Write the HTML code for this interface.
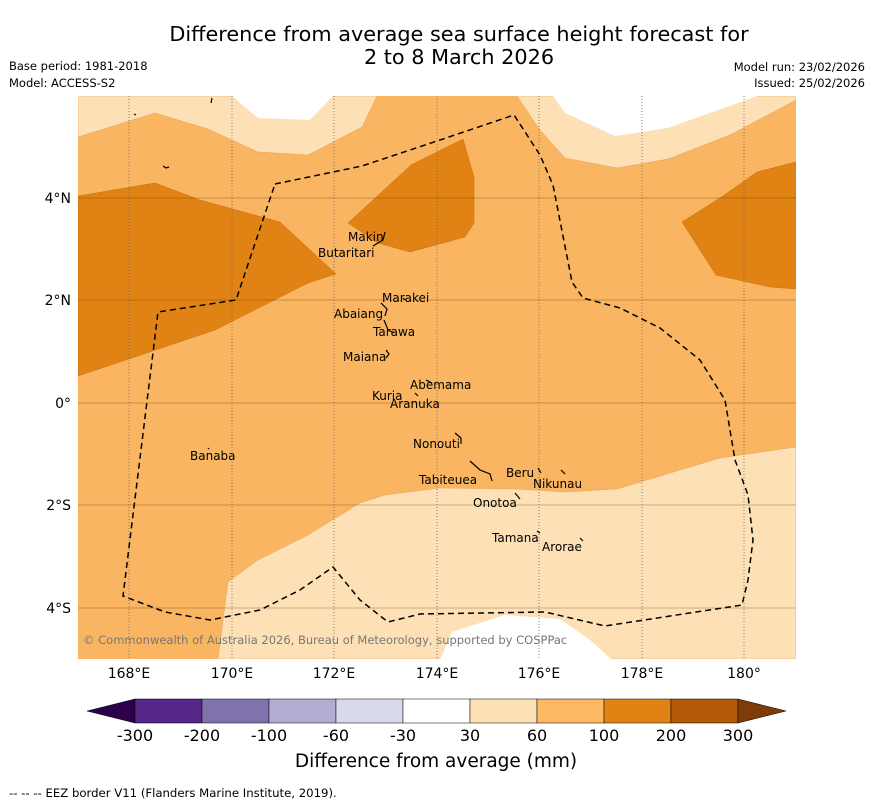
<!DOCTYPE html>
<html><head><meta charset="utf-8"><style>
body{margin:0;background:#fff;font-family:"Liberation Sans","DejaVu Sans",sans-serif}
svg{display:block}
text{font-family:"DejaVu Sans","Liberation Sans",sans-serif}
</style></head><body>
<svg width="873" height="804" viewBox="0 0 873 804">
<g font-size="20.8" text-anchor="middle" fill="#000">
<text x="459" y="41">Difference from average sea surface height forecast for</text>
<text x="459" y="64">2 to 8 March 2026</text></g>
<g font-size="11.5" fill="#000">
<text x="9" y="70">Base period: 1981-2018</text><text x="9" y="87">Model: ACCESS-S2</text>
<text x="865" y="71" text-anchor="end">Model run: 23/02/2026</text><text x="865" y="87" text-anchor="end">Issued: 25/02/2026</text></g>
<clipPath id="mc"><rect x="78" y="96" width="718" height="563"/></clipPath>
<g clip-path="url(#mc)">
<rect x="78" y="96" width="718" height="563" fill="#f9b561"/>
<polygon fill="#fde0b6" stroke="#e9a45a" stroke-width="0.5" points="78,96 377,96 362,127 308,155 258,152 208,129 155,113 78,137"/>
<polygon fill="#fff" points="232,96 258,118 310,120 333,96"/>
<polygon fill="#fde0b6" stroke="#e9a45a" stroke-width="0.5" points="517,96 796,96 796,100 730,135 668,159 617,168 565,158 540,130"/>
<polygon fill="#fff" points="553,96 565,113 615,136 668,128 757,96"/>
<polygon fill="#fde0b6" stroke="#e9a45a" stroke-width="0.5" points="796,447 720,458 617,489 565,492 517,489 440,488 385,495 360,503 308,535 258,560 228,582 218,659 796,659"/>
<polygon fill="#fff" points="440,660 452,632 505,615 560,619 590,640 612,660"/>
<polygon fill="#e08214" stroke="#c87010" stroke-width="0.5" points="78,196 155,183 200,200 280,222 336,274 308,283 215,330 105,367 78,376"/>
<polygon fill="#e08214" stroke="#c87010" stroke-width="0.5" points="348,223 411,165 463,139 474,177 474,223 465,237 410,252 378,243"/>
<polygon fill="#e08214" stroke="#c87010" stroke-width="0.5" points="682,222 720,198 757,172 796,162 796,289 770,287 716,275"/>
<g stroke="rgba(90,50,0,0.3)" stroke-width="1">
<line x1="78" x2="796" y1="198" y2="198"/><line x1="78" x2="796" y1="300" y2="300"/><line x1="78" x2="796" y1="403" y2="403"/><line x1="78" x2="796" y1="505" y2="505"/><line x1="78" x2="796" y1="608" y2="608"/></g>
<g stroke="#666" stroke-width="0.8" stroke-dasharray="1,2">
<line x1="129" x2="129" y1="96" y2="659"/><line x1="232" x2="232" y1="96" y2="659"/><line x1="334" x2="334" y1="96" y2="659"/><line x1="437" x2="437" y1="96" y2="659"/><line x1="539" x2="539" y1="96" y2="659"/><line x1="642" x2="642" y1="96" y2="659"/><line x1="744" x2="744" y1="96" y2="659"/></g>
<polygon fill="none" stroke="#000" stroke-width="1.5" stroke-dasharray="6,4" points="275,184 362,166 440,140 514,115 540,155 553,185 572,282 583,298 620,308 660,328 700,360 725,400 735,460 748,495 753,540 748,580 742,605 605,626 545,612 420,614 388,622 360,600 333,567 300,590 260,610 210,620 165,612 123,596 158,312 236,300"/>
<g fill="none" stroke="#000" stroke-width="1.2">
<path d="M373,246 L383,240 L385,232"/><path d="M381,303 L387,309 L385,316"/><path d="M384,320 L388,330 L394,333"/><path d="M386,350 L389,354 L386,358"/><path d="M426,380 L432,383"/><path d="M415,393 L418,396"/><path d="M455,433 L461,438 L461,444"/><path d="M470,461 L480,470 L490,474 L492,481"/><path d="M538,468 L541,473"/><path d="M561,470 L565,474"/><path d="M515,493 L520,499"/><path d="M537,531 L540,533"/><path d="M580,538 L583,541"/><path d="M134,114 l2,1"/><path d="M163,166 l3,2 l3,-1"/><path d="M212,98 l-1,5"/><path d="M403,298 l2,2"/><path d="M208,448 l1,1"/></g>
<g font-size="12" fill="#000">
<text x="348" y="241">Makin</text><text x="318" y="257">Butaritari</text><text x="382" y="302">Marakei</text><text x="334" y="318">Abaiang</text><text x="373" y="336">Tarawa</text><text x="343" y="361">Maiana</text><text x="410" y="389">Abemama</text><text x="372" y="400">Kuria</text><text x="390" y="408">Aranuka</text><text x="413" y="448">Nonouti</text><text x="190" y="460">Banaba</text><text x="506" y="477">Beru</text><text x="533" y="488">Nikunau</text><text x="419" y="484">Tabiteuea</text><text x="473" y="507">Onotoa</text><text x="492" y="542">Tamana</text><text x="542" y="551">Arorae</text></g>
<text x="83" y="644" font-size="11.5" fill="#777">© Commonwealth of Australia 2026, Bureau of Meteorology, supported by COSPPac</text>
</g>
<g font-size="14" fill="#000" text-anchor="end">
<text x="71" y="203">4°N</text><text x="71" y="305">2°N</text><text x="71" y="408">0°</text><text x="71" y="510">2°S</text><text x="71" y="613">4°S</text></g>
<g font-size="14" fill="#000" text-anchor="middle">
<text x="129" y="678">168°E</text><text x="232" y="678">170°E</text><text x="334" y="678">172°E</text><text x="437" y="678">174°E</text><text x="539" y="678">176°E</text><text x="642" y="678">178°E</text><text x="744" y="678">180°</text></g>
<g id="cbar"></g>
<text x="436" y="767" font-size="18.5" text-anchor="middle">Difference from average (mm)</text>
<text x="9" y="797" font-size="11.7">--  --  -- EEZ border V11 (Flanders Marine Institute, 2019).</text>
</svg>
<script>
const levels=["-300","-200","-100","-60","-30","30","60","100","200","300"];
const colors=["#542788","#8073ac","#b2abd2","#d8daeb","#ffffff","#fee0b6","#fdb863","#e08214","#b35806"];
const under="#2d004b", over="#7f3b08";
const g=document.getElementById('cbar');const ns="http://www.w3.org/2000/svg";
const x0=135,x1=738,y0=699,h=24,w=(x1-x0)/colors.length;
function mk(t,a){const e=document.createElementNS(ns,t);for(const k in a)e.setAttribute(k,a[k]);g.appendChild(e);return e;}
let l=mk('polygon',{points:`87,${y0+h/2} ${x0},${y0} ${x0},${y0+h}`,fill:under,stroke:'#000','stroke-width':0.5});


colors.forEach((c,i)=>{const r=mk('rect',{x:x0+i*w,y:y0,width:w,height:h,fill:c,stroke:'#000','stroke-width':0.5});

});
let o=mk('polygon',{points:`${x1},${y0} 786,${y0+h/2} ${x1},${y0+h}`,fill:over,stroke:'#000','stroke-width':0.5});


levels.forEach((s,i)=>{const t=mk('text',{x:x0+i*w,y:741,'font-size':16,'text-anchor':'middle'});t.textContent=s;

});
</script>
</body></html>
